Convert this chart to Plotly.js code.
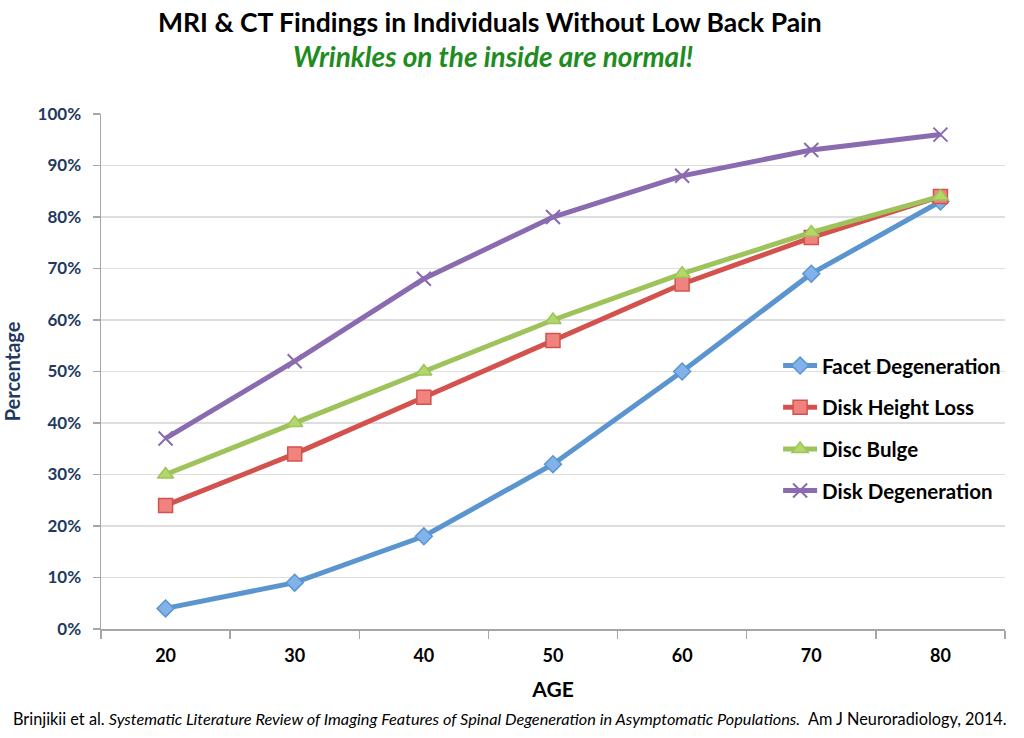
<!DOCTYPE html>
<html>
<head>
<meta charset="utf-8">
<script src="https://cdn.plot.ly/plotly-3.0.1.min.js"></script>
<style>html,body{margin:0;padding:0;background:#fff;}#chart{width:1024px;height:738px;}</style>
</head>
<body>
<div id="chart"></div>
<script>
var ages = ['20', '30', '40', '50', '60', '70', '80'];
var facetDegeneration = [4, 9, 18, 32, 50, 69, 83];
var diskHeightLoss = [24, 34, 45, 56, 67, 76, 84];
var discBulge = [30, 40, 50, 60, 69, 77, 84];
var diskDegeneration = [37, 52, 68, 80, 88, 93, 96];
var seriesNames = ['Facet Degeneration', 'Disk Height Loss', 'Disc Bulge', 'Disk Degeneration'];
var yTickVals = [0, 10, 20, 30, 40, 50, 60, 70, 80, 90, 100];
var yTickText = ['0%', '10%', '20%', '30%', '40%', '50%', '60%', '70%', '80%', '90%', '100%'];

var FONT = 'Lato, "Open Sans", sans-serif';

function mk(y, name, color, fill, symbol, size, group) {
  return {
    x: ages, y: y, name: name, type: 'scatter', mode: 'lines+markers',
    legendgroup: group,
    line: {color: color, width: 5},
    marker: {symbol: symbol, size: size, color: fill, line: {color: color, width: 1.5}}
  };
}

var traces = [
  mk(facetDegeneration, seriesNames[0], '#5b95d0', '#82b2ea', 'diamond', 13, 'a'),
  mk(diskHeightLoss, seriesNames[1], '#d4524e', '#f0837e', 'square', 14, 'b'),
  mk(discBulge, seriesNames[2], '#9ec35b', '#b2d86a', 'triangle-up', 14, 'c'),
  mk(diskDegeneration, seriesNames[3], '#8a6bb0', '#8a6bb0', 'x-thin', 14, 'd')
];
traces[3].marker.line = {color: '#8a6bb0', width: 2};

var layout = {
  width: 1024, height: 738,
  margin: {l: 101, r: 19, t: 114, b: 109},
  paper_bgcolor: '#fff', plot_bgcolor: '#fff',
  font: {family: FONT, color: '#000'},
  showlegend: true,
  legend: {
    x: 0.749, y: 0.55, xanchor: 'left', yanchor: 'top',
    font: {family: FONT, size: 20.5, color: '#000', weight: 'bold'},
    bgcolor: 'rgba(0,0,0,0)', tracegroupgap: 12, itemwidth: 34
  },
  xaxis: {
    type: 'category', range: [-0.5, 6.5], fixedrange: true,
    tickson: 'boundaries', ticks: 'outside', ticklen: 8, tickcolor: '#a6a6a6', tickwidth: 1.5,
    showline: true, linecolor: '#a6a6a6', linewidth: 1.5, showgrid: false, zeroline: false,
    tickfont: {family: FONT, size: 18, color: '#000', weight: 'bold'},
    ticklabelstandoff: 10,
    title: {text: '<b>AGE</b>', font: {family: FONT, size: 21, color: '#000'}, standoff: 17}
  },
  yaxis: {
    range: [0, 100], tickvals: yTickVals, ticktext: yTickText, fixedrange: true,
    ticks: 'outside', ticklen: 7, tickcolor: '#a6a6a6', tickwidth: 1.5,
    showline: true, linecolor: '#a6a6a6', linewidth: 1.5,
    showgrid: true, gridcolor: '#dedede', gridwidth: 1.2, zeroline: false,
    tickfont: {family: FONT, size: 17, color: '#1f3a5f', weight: 'bold'},
    ticklabelstandoff: 8,
    title: {text: '<b>Percentage</b>', font: {family: FONT, size: 20, color: '#1f3a5f'}, standoff: 11}
  },
  annotations: [
    {text: '<b>MRI &amp; CT Findings in Individuals Without Low Back Pain</b>', xref: 'paper', yref: 'paper',
     x: 0.43, y: 1.179, xanchor: 'center', yanchor: 'middle', showarrow: false,
     font: {family: FONT, size: 26.5, color: '#000'}},
    {text: '<b><i>Wrinkles on the inside are normal!</i></b>', xref: 'paper', yref: 'paper',
     x: 0.434, y: 1.113, xanchor: 'center', yanchor: 'middle', showarrow: false,
     font: {family: FONT, size: 28, color: '#1e8c1e'}},
    {text: 'Brinjikii et al. <i>Systematic Literature Review of Imaging Features of Spinal Degeneration in Asymptomatic Populations.</i>  Am J Neuroradiology, 2014.',
     xref: 'paper', yref: 'paper', x: -0.1, y: -0.173, xanchor: 'left', yanchor: 'middle', showarrow: false,
     font: {family: FONT, size: 16.3, color: '#000'}}
  ]
};

Plotly.newPlot('chart', traces, layout, {displayModeBar: false, staticPlot: true});
</script>
</body>
</html>
